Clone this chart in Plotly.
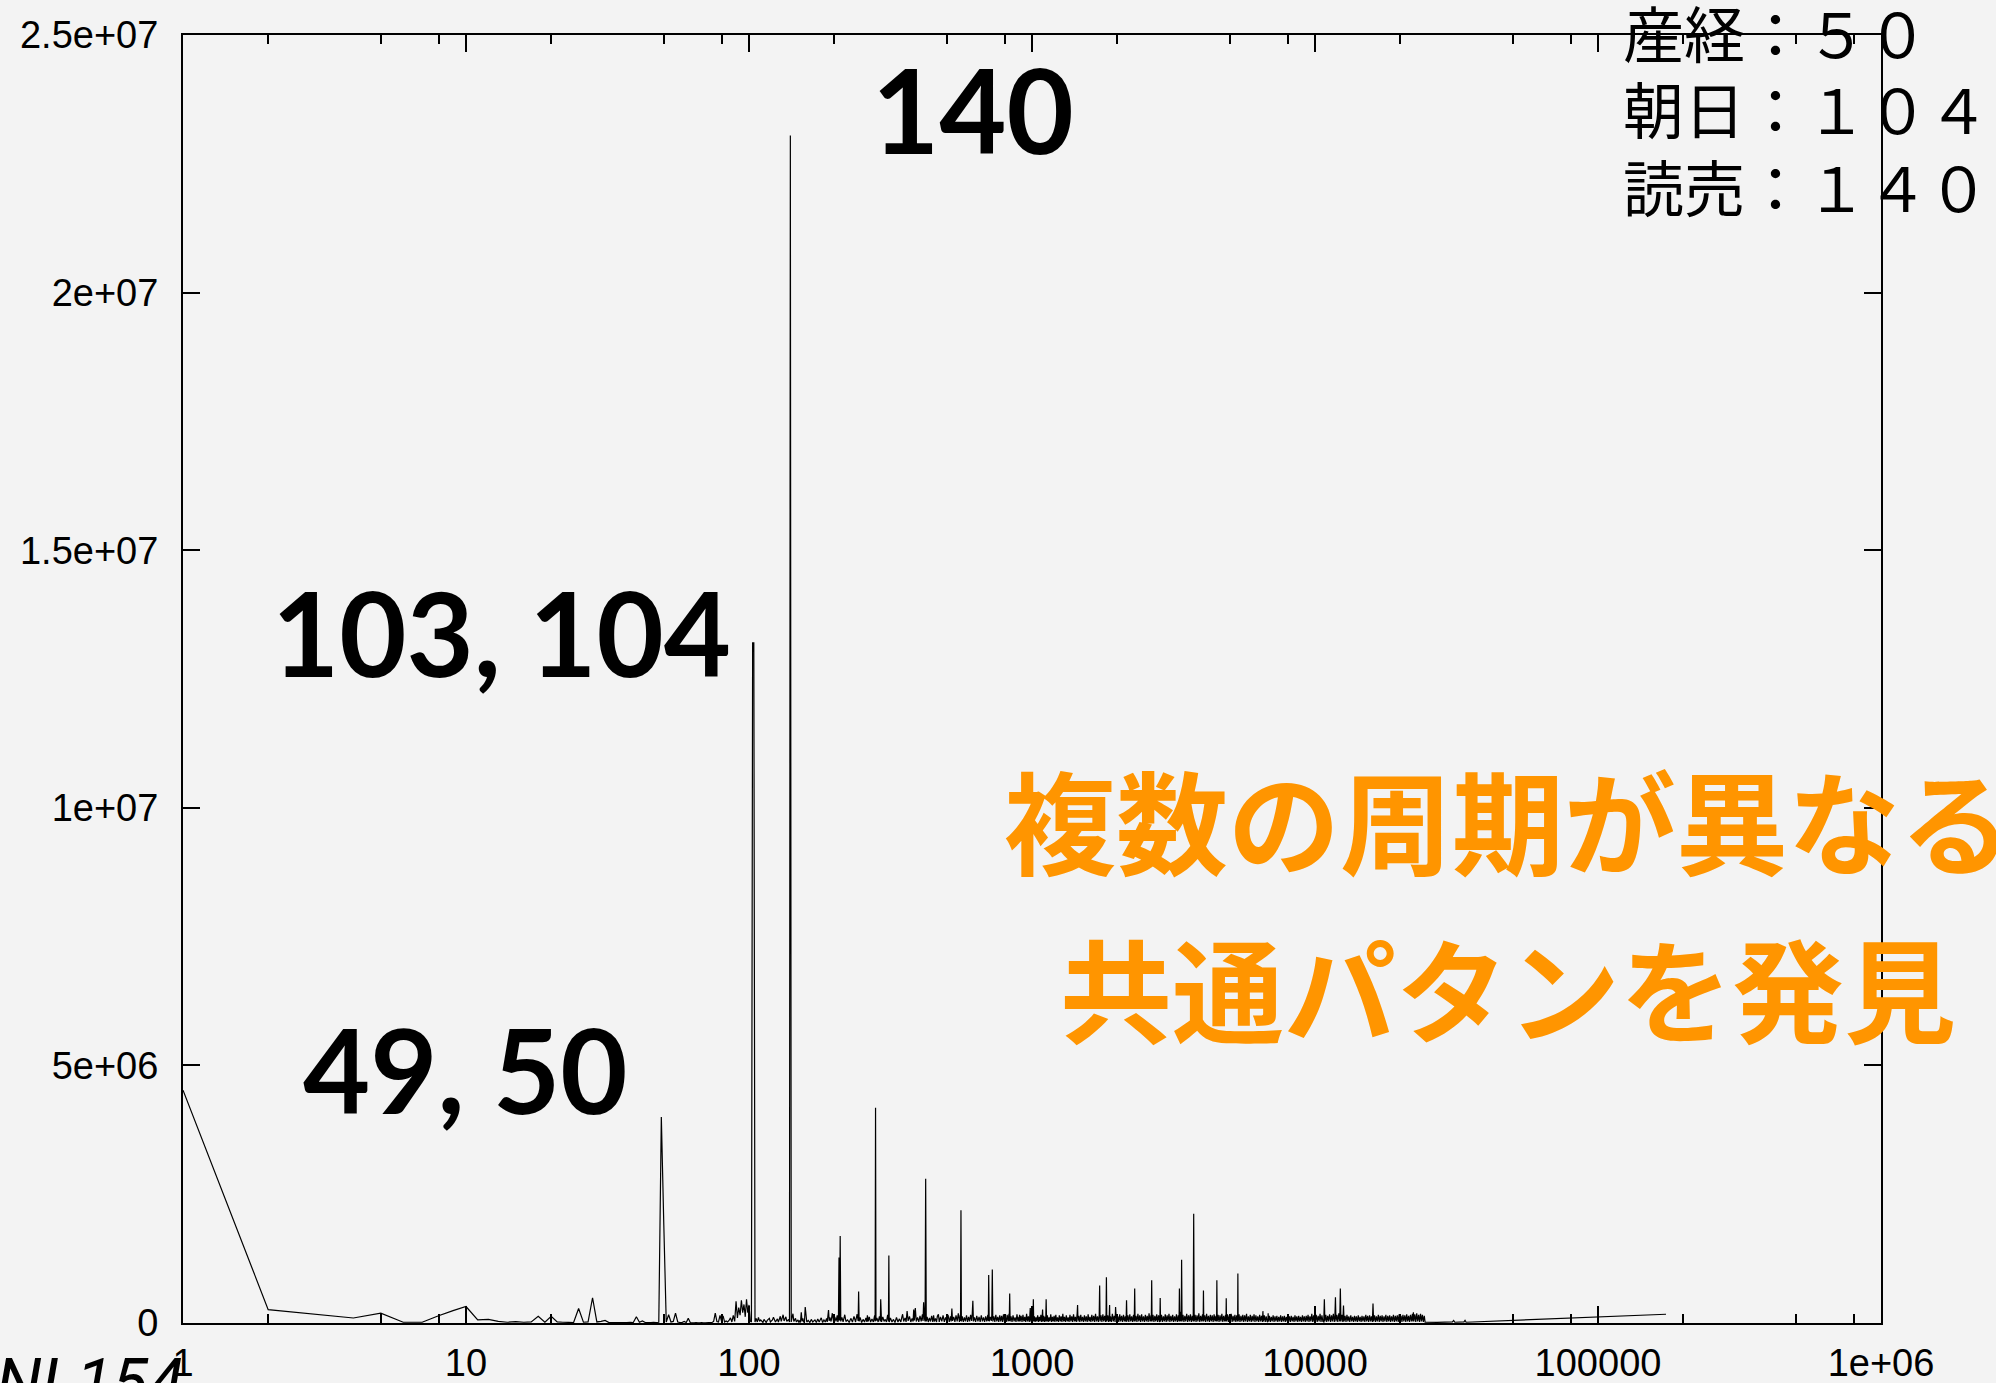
import plotly.graph_objects as go

# ---- spectrum data: (period, power) ----
low_band = [
    (1, 4.52e6), (2, 2.6e5), (4, 9.7e4), (5, 1.9e5), (6, 1.5e4), (7, 1.5e4), (8, 1.4e5),
    (9, 2.4e5), (10, 3.2e5), (11, 6e4), (12, 7e4), (13, 3e4), (14, 1.5e4), (15, 2.5e4),
    (16, 1.5e4), (17, 2e4), (18, 1.3e5), (19, 1.5e4), (20, 1.3e5), (21, 2e4), (22, 1.5e4),
    (23, 1.2e4), (24, 1e4), (25, 2.8e5), (26, 1.5e4), (27, 2e4), (28, 4.9e5), (29, 2e4),
    (30, 3e4), (31, 5e4), (32, 8e3), (33, 1e4), (34, 8e3), (35, 1e4), (36, 8e3), (37, 1e4),
    (38, 1.2e4), (39, 1e4), (40, 1.2e5), (41, 1.5e4), (42, 4e4), (43, 1e4), (44, 8e3),
    (45, 1e4), (46, 1.2e4), (47, 1e4), (48, 1.5e4), (51, 2e4), (52, 1.6e5), (53, 2e4),
    (54, 3e4), (55, 1.9e5), (56, 2e4), (57, 1e4), (58, 1e4), (59, 3e4), (60, 1e4),
    (61, 9e4), (62, 1e4), (63, 5e3), (64, 5e3), (65, 8e3), (66, 5e3), (67, 5e3), (68, 8e3),
    (69, 5e3), (70, 5e3), (72, 8e3), (74, 1e4), (75, 3e4), (76, 1.9e5), (77, 3e4),
    (78, 2e4), (79, 1.5e5), (80, 3e4), (81, 1.4e5), (82, 2e4), (83, 4e4), (84, 2e4),
    (85, 5e4), (86, 1e5), (87, 2e4), (88, 1.5e5), (89, 3e4), (90, 4.2e5), (91, 1e5),
    (92, 3e5), (93, 1.5e5), (94, 4.4e5), (95, 2e5), (96, 3.6e5), (97, 1.2e5), (98, 4.6e5),
    (99, 2e5), (100, 3.5e5), (101, 4e4), (102, 2e4),
]

peaks = [
    (49, 4.0e6), (50, 1.9e6), (103, 1.32e7), (104, 1.32e7), (140, 2.305e7),
    (153, 2.1e5), (158, 3.1e5), (191, 2.5e5), (197, 1.9e5), (208, 1.27e6), (210, 1.69e6),
    (244, 6.1e5), (262, 1.5e5), (280, 4.18e6), (292, 4.6e5), (312, 1.31e6), (349, 1.7e5),
    (362, 2.3e5), (382, 2.6e5), (387, 2.9e5), (414, 4.0e5), (421, 2.8e6), (449, 1.5e5),
    (467, 1.7e5), (521, 2.8e5), (561, 2.19e6), (618, 4.3e5), (703, 9.3e5), (724, 1.04e6),
    (834, 5.7e5), (904, 1.6e5), (986, 2.9e5), (1011, 4.6e5), (1090, 2.6e5), (1122, 4.6e5),
    (1449, 3.5e5), (1734, 7.3e5), (1832, 8.9e5), (1880, 3.5e5), (1974, 3.1e5),
    (2158, 4.4e5), (2306, 6.7e5), (2648, 8.3e5), (2838, 4.85e5), (3318, 6.7e5),
    (3378, 1.23e6), (3727, 2.12e6), (4035, 6.3e5), (4500, 8.3e5), (4857, 4.8e5),
    (5339, 9.6e5), (6545, 2.3e5), (6831, 1.9e5), (8016, 1.6e5), (9990, 3.3e5),
    (10790, 4.6e5), (11810, 5.0e5), (12290, 6.7e5), (12610, 3.4e5), (16030, 3.8e5),
    (22270, 2.1e5),
]

grass_100_1k = [
    (105, 2e4), (106, 9e4), (107, 2e4), (108, 1.1e5), (109, 3e4), (110, 6e4), (112, 1e4),
    (113, 7e4), (115, 1e4), (116, 5e4), (118, 9e4), (119, 2e4), (121, 6e4), (122, 1.1e5),
    (124, 2e4), (126, 8e4), (127, 2e4), (129, 1.3e5), (130, 3e4), (132, 1.6e5), (133, 4e4),
    (135, 1.2e5), (136, 3e4), (138, 7e4), (139, 2e4), (141, 2e4), (142, 1.1e5), (143, 1.8e5),
    (144, 3e4), (146, 9e4), (147, 2e4), (149, 6e4), (150, 1e4), (151, 5e4), (152, 1e4),
    (154, 3e4), (155, 9e4), (156, 2e4), (157, 1e4), (160, 2e4), (162, 5e4), (164, 1e4),
    (166, 7e4), (168, 2e4), (171, 6e4), (173, 1e4), (175, 8e4), (177, 2e4), (180, 1e5),
    (182, 1e4), (184, 6e4), (186, 2e4), (188, 9e4), (189, 2e4), (192, 4e4), (193, 1.1e5),
    (195, 3e4), (199, 2e4), (201, 1.2e5), (203, 3e4), (205, 1.5e5), (206, 2e4), (207, 6e4),
    (209, 5e4), (211, 3e4), (213, 1.1e5), (215, 2e4), (218, 1.6e5), (220, 3e4), (223, 6e4),
    (226, 1e4), (229, 9e4), (232, 2e4), (235, 1.3e5), (238, 2e4), (241, 1.7e5), (243, 4e4),
    (245, 3e4), (247, 1.1e5), (250, 1e4), (253, 7e4), (256, 2e4), (259, 1e5), (261, 2e4),
    (264, 3e4), (266, 1.2e5), (269, 2e4), (272, 8e4), (275, 2e4), (278, 1.5e5), (279, 3e4),
    (281, 4e4), (283, 1e5), (286, 2e4), (289, 1.3e5), (291, 3e4), (294, 2e4), (297, 1.2e5),
    (300, 3e4), (303, 7e4), (306, 2e4), (309, 1.6e5), (311, 3e4), (313, 2e4), (316, 1e5),
    (320, 2e4), (324, 7e4), (328, 1e4), (332, 1.1e5), (336, 2e4), (340, 8e4), (344, 2e4),
    (347, 1.2e5), (352, 3e4), (356, 1e5), (359, 2e4), (365, 4e4), (369, 1.3e5), (373, 2e4),
    (377, 9e4), (380, 3e4), (384, 5e4), (390, 3e4), (394, 1.1e5), (398, 2e4), (402, 1.4e5),
    (406, 3e4), (410, 1.7e5), (412, 4e4), (417, 8e4), (419, 3e4), (423, 3e4), (426, 1.2e5),
    (430, 2e4), (434, 1e5), (438, 3e4), (442, 1.4e5), (446, 2e4), (452, 3e4), (456, 9e4),
    (460, 2e4), (463, 1.3e5), (470, 2e4), (475, 1.2e5), (480, 3e4), (485, 1.5e5), (490, 2e4),
    (495, 1.1e5), (500, 3e4), (505, 1.6e5), (510, 2e4), (515, 1.3e5), (518, 3e4), (524, 4e4),
    (529, 1.2e5), (534, 2e4), (539, 1.5e5), (544, 3e4), (549, 1.9e5), (554, 2e4), (558, 1.6e5),
    (559, 4e4), (563, 3e4), (567, 1.3e5), (572, 2e4), (577, 1.1e5), (582, 3e4), (587, 1.5e5),
    (592, 2e4), (597, 1.2e5), (602, 3e4), (607, 1.6e5), (612, 4e4), (615, 1.8e5), (621, 3e4),
    (626, 1.1e5), (632, 2e4), (638, 1.4e5), (644, 3e4), (650, 1.2e5), (656, 2e4), (662, 1.5e5),
    (668, 3e4), (674, 1.1e5), (680, 2e4), (686, 1.3e5), (692, 3e4), (698, 1.6e5), (701, 4e4),
    (706, 3e4), (712, 1.2e5), (718, 4e4), (721, 1.5e5), (727, 3e4), (733, 1.3e5), (739, 2e4),
    (745, 1.6e5), (751, 3e4), (757, 1.2e5), (763, 2e4), (769, 1.5e5), (775, 3e4), (781, 1.4e5),
    (787, 2e4), (793, 1.7e5), (799, 3e4), (805, 1.2e5), (811, 2e4), (817, 1.6e5), (823, 3e4),
    (829, 1.8e5), (831, 4e4), (837, 3e4), (843, 1.3e5), (850, 2e4), (857, 1.5e5), (864, 3e4),
    (871, 1.1e5), (878, 2e4), (885, 1.7e5), (892, 3e4), (899, 1.2e5), (901, 3e4), (908, 3e4),
    (915, 1.4e5), (922, 2e4), (929, 1.6e5), (936, 3e4), (943, 1.2e5), (950, 2e4), (957, 1.8e5),
    (964, 3e4), (971, 1.3e5), (978, 2e4), (983, 1.6e5), (990, 3e4), (995, 1.4e5), (1000, 3e4),
    (1005, 1.7e5), (1008, 4e4),
]

grass_1k_3k = [
    (1014, 3e4), (1020, 1.3e5), (1026, 2e4), (1033, 1.1e5), (1040, 3e4), (1047, 1.5e5),
    (1054, 2e4), (1061, 1.2e5), (1068, 3e4), (1075, 1.6e5), (1082, 2e4), (1086, 1e5),
    (1094, 3e4), (1100, 1.4e5), (1107, 2e4), (1114, 1.2e5), (1118, 3e4), (1126, 3e4),
    (1133, 1.5e5), (1141, 2e4), (1149, 1.1e5), (1157, 3e4), (1165, 1.7e5), (1173, 2e4),
    (1181, 1.2e5), (1189, 3e4), (1197, 1.4e5), (1205, 2e4), (1214, 1.6e5), (1222, 3e4),
    (1231, 1.1e5), (1240, 2e4), (1249, 1.5e5), (1258, 3e4), (1267, 1.3e5), (1276, 2e4),
    (1285, 1.8e5), (1294, 3e4), (1303, 1.2e5), (1313, 2e4), (1322, 1.5e5), (1332, 3e4),
    (1342, 1.1e5), (1352, 2e4), (1362, 1.6e5), (1372, 3e4), (1382, 1.3e5), (1392, 2e4),
    (1402, 1.7e5), (1413, 3e4), (1423, 1.2e5), (1434, 2e4), (1444, 1.9e5), (1454, 3e4),
    (1465, 1.4e5), (1476, 2e4), (1487, 1.6e5), (1498, 3e4), (1509, 1.2e5), (1521, 2e4),
    (1532, 1.5e5), (1544, 3e4), (1555, 1.3e5), (1567, 2e4), (1579, 1.7e5), (1591, 3e4),
    (1603, 1.2e5), (1615, 2e4), (1627, 1.6e5), (1640, 3e4), (1652, 1.4e5), (1665, 2e4),
    (1677, 1.8e5), (1690, 3e4), (1703, 1.3e5), (1716, 2e4), (1728, 1.6e5), (1740, 3e4),
    (1753, 1.5e5), (1766, 2e4), (1780, 1.7e5), (1793, 3e4), (1807, 1.4e5), (1820, 2e4),
    (1827, 1.9e5), (1838, 3e4), (1851, 1.5e5), (1865, 2e4), (1875, 1.6e5), (1885, 3e4),
    (1894, 1.3e5), (1908, 2e4), (1923, 1.8e5), (1937, 3e4), (1952, 1.4e5), (1966, 2e4),
    (1981, 1.6e5), (1996, 3e4), (2011, 1.3e5), (2026, 2e4), (2042, 1.7e5), (2057, 3e4),
    (2073, 1.4e5), (2089, 2e4), (2105, 1.6e5), (2121, 3e4), (2137, 1.3e5), (2150, 2e4),
    (2166, 3e4), (2182, 1.5e5), (2199, 2e4), (2216, 1.7e5), (2233, 3e4), (2250, 1.3e5),
    (2267, 2e4), (2284, 1.6e5), (2298, 3e4), (2314, 3e4), (2331, 1.4e5), (2349, 2e4),
    (2367, 1.8e5), (2385, 3e4), (2403, 1.5e5), (2421, 2e4), (2440, 1.7e5), (2458, 3e4),
    (2477, 1.3e5), (2496, 2e4), (2515, 1.6e5), (2534, 3e4), (2553, 1.4e5), (2573, 2e4),
    (2592, 1.9e5), (2612, 3e4), (2632, 1.5e5), (2640, 3e4), (2656, 3e4), (2676, 1.6e5),
    (2697, 2e4), (2717, 1.4e5), (2738, 3e4), (2759, 1.7e5), (2780, 2e4), (2801, 1.5e5),
    (2822, 3e4), (2830, 2e4), (2846, 3e4), (2868, 1.6e5), (2890, 2e4), (2912, 1.3e5),
    (2934, 3e4), (2957, 1.7e5), (2979, 2e4),
]

grass_3k_10k = [
    (3002, 1.5e5), (3025, 3e4), (3048, 1.8e5), (3071, 2e4), (3095, 1.4e5), (3118, 3e4),
    (3142, 1.6e5), (3166, 2e4), (3190, 1.3e5), (3215, 3e4), (3239, 1.7e5), (3264, 2e4),
    (3289, 1.5e5), (3308, 3e4), (3330, 3e4), (3350, 2.2e5), (3368, 3e4), (3390, 3e4),
    (3416, 1.6e5), (3442, 2e4), (3468, 1.4e5), (3494, 3e4), (3521, 1.8e5), (3548, 2e4),
    (3575, 1.5e5), (3602, 3e4), (3630, 1.7e5), (3657, 2e4), (3685, 1.4e5), (3712, 3e4),
    (3742, 3e4), (3770, 1.6e5), (3799, 2e4), (3828, 1.5e5), (3857, 3e4), (3886, 1.9e5),
    (3916, 2e4), (3945, 1.4e5), (3975, 3e4), (4005, 1.7e5), (4025, 3e4), (4046, 3e4),
    (4077, 1.5e5), (4108, 2e4), (4140, 1.8e5), (4171, 3e4), (4203, 1.4e5), (4235, 2e4),
    (4268, 1.6e5), (4300, 3e4), (4333, 1.5e5), (4366, 2e4), (4400, 1.7e5), (4433, 3e4),
    (4467, 1.4e5), (4490, 3e4), (4512, 3e4), (4546, 1.6e5), (4581, 2e4), (4616, 1.5e5),
    (4651, 3e4), (4687, 1.8e5), (4722, 2e4), (4758, 1.4e5), (4795, 3e4), (4831, 1.6e5),
    (4847, 3e4), (4868, 3e4), (4905, 1.7e5), (4942, 2e4), (4980, 1.5e5), (5018, 3e4),
    (5056, 1.8e5), (5095, 2e4), (5134, 1.4e5), (5173, 3e4), (5212, 1.6e5), (5252, 2e4),
    (5292, 1.5e5), (5328, 3e4), (5350, 3e4), (5391, 1.7e5), (5432, 2e4), (5474, 1.4e5),
    (5515, 3e4), (5558, 1.6e5), (5600, 2e4), (5643, 1.5e5), (5686, 3e4), (5729, 1.8e5),
    (5773, 2e4), (5817, 1.3e5), (5862, 3e4), (5907, 1.6e5), (5952, 2e4), (5997, 1.4e5),
    (6043, 3e4), (6089, 1.7e5), (6136, 2e4), (6183, 1.5e5), (6230, 3e4), (6278, 1.3e5),
    (6326, 2e4), (6374, 1.6e5), (6423, 3e4), (6472, 1.4e5), (6521, 2e4), (6570, 3e4),
    (6621, 1.5e5), (6671, 2e4), (6722, 1.3e5), (6773, 3e4), (6810, 2e4), (6850, 3e4),
    (6900, 1.4e5), (6952, 2e4), (7005, 1.2e5), (7059, 3e4), (7113, 1.5e5), (7167, 2e4),
    (7222, 1.3e5), (7277, 3e4), (7333, 1.4e5), (7389, 2e4), (7445, 1.2e5), (7502, 3e4),
    (7559, 1.5e5), (7617, 2e4), (7675, 1.3e5), (7734, 3e4), (7793, 1.4e5), (7852, 2e4),
    (7912, 1.2e5), (7972, 3e4), (8060, 3e4), (8120, 1.3e5), (8180, 2e4), (8243, 1.4e5),
    (8306, 3e4), (8369, 1.2e5), (8433, 2e4), (8497, 1.5e5), (8562, 3e4), (8627, 1.3e5),
    (8693, 2e4), (8759, 1.4e5), (8826, 3e4), (8893, 1.2e5), (8961, 2e4), (9029, 1.5e5),
    (9098, 3e4), (9168, 1.3e5), (9238, 2e4), (9308, 1.4e5), (9379, 3e4), (9451, 1.6e5),
    (9523, 2e4), (9595, 1.3e5), (9668, 3e4), (9742, 1.8e5), (9816, 2e4), (9891, 1.5e5),
    (9950, 3e4),
]

grass_10k_25k = [
    (10030, 3e4), (10100, 1.6e5), (10180, 2e4), (10260, 1.4e5), (10340, 3e4), (10420, 1.8e5),
    (10500, 2e4), (10580, 1.5e5), (10660, 3e4), (10740, 2e4), (10840, 3e4), (10920, 1.6e5),
    (11000, 2e4), (11090, 1.4e5), (11170, 3e4), (11260, 1.7e5), (11350, 2e4), (11440, 1.5e5),
    (11520, 3e4), (11610, 1.8e5), (11700, 2e4), (11760, 1.4e5), (11860, 3e4), (11950, 1.6e5),
    (12040, 2e4), (12140, 1.9e5), (12230, 3e4), (12350, 3e4), (12450, 1.6e5), (12540, 2e4),
    (12670, 3e4), (12770, 1.4e5), (12870, 2e4), (12970, 1.6e5), (13070, 3e4), (13170, 1.3e5),
    (13270, 2e4), (13380, 1.5e5), (13480, 3e4), (13580, 1.2e5), (13690, 2e4), (13790, 1.4e5),
    (13900, 3e4), (14000, 1.3e5), (14110, 2e4), (14220, 1.5e5), (14330, 3e4), (14440, 1.2e5),
    (14550, 2e4), (14660, 1.4e5), (14770, 3e4), (14890, 1.3e5), (15000, 2e4), (15120, 1.6e5),
    (15230, 3e4), (15350, 1.4e5), (15470, 2e4), (15590, 1.5e5), (15710, 3e4), (15830, 1.3e5),
    (15950, 2e4), (16110, 3e4), (16230, 1.5e5), (16360, 2e4), (16480, 1.3e5), (16610, 3e4),
    (16740, 1.6e5), (16870, 2e4), (17000, 1.4e5), (17130, 3e4), (17260, 1.5e5), (17390, 2e4),
    (17530, 1.3e5), (17660, 3e4), (17800, 1.6e5), (17940, 2e4), (18080, 1.4e5), (18220, 3e4),
    (18360, 1.5e5), (18500, 2e4), (18640, 1.3e5), (18790, 3e4), (18930, 1.6e5), (19080, 2e4),
    (19230, 1.4e5), (19380, 3e4), (19530, 1.5e5), (19680, 2e4), (19830, 1.7e5), (19980, 3e4),
    (20140, 1.4e5), (20290, 2e4), (20450, 1.6e5), (20610, 3e4), (20770, 1.5e5), (20930, 2e4),
    (21090, 1.7e5), (21250, 3e4), (21420, 1.4e5), (21580, 2e4), (21750, 1.6e5), (21920, 3e4),
    (22090, 1.8e5), (22200, 3e4), (22350, 3e4), (22530, 1.7e5), (22700, 2e4), (22880, 1.9e5),
    (23060, 3e4), (23240, 1.6e5), (23420, 2e4), (23600, 1.8e5), (23780, 3e4), (23960, 1.6e5),
    (24150, 2e4), (24330, 1.4e5),
]

tail = [
    (24500, 1.5e4), (27000, 1.2e4), (30600, 2e4), (30900, 5e4), (31200, 1.5e4),
    (33600, 2e4), (33900, 5e4), (34200, 1.5e4), (173900, 1.7e5),
]

# ---- axis ticks ----
x_major = [1, 10, 100, 1000, 10000, 100000, 1000000]
x_major_text = ["1", "10", "100", "1000", "10000", "100000", "1e+06"]
x_minor = [2, 5, 8, 20, 50, 80, 200, 500, 800, 2000, 5000, 8000,
           20000, 50000, 80000, 200000, 500000, 800000]
y_major = [0, 5e6, 1e7, 1.5e7, 2e7, 2.5e7]
y_major_text = ["0", "5e+06", "1e+07", "1.5e+07", "2e+07", "2.5e+07"]

# ---- texts ----
newspapers = ["産経", "朝日", "読売"]
cycles = ["５０", "１０４", "１４０"]
peak_labels = ["140", "103, 104", "49, 50"]
message_lines = ["複数の周期が異なる", "共通パタンを発見"]
footer = "NL154"

# merge segments into one ordered series (peaks take precedence)
series = {}
for seg in (low_band, grass_100_1k, grass_1k_3k, grass_3k_10k, grass_10k_25k, tail):
    for p, v in seg:
        series[p] = v
for p, v in peaks:
    series[p] = v
period = sorted(series)
power = [series[p] for p in period]

# ---- page geometry ----
W, H = 1996, 1383
L, R, T, B = 183, 1881, 35, 1323


def px(x):
    return (x - L) / (R - L)


def py(y):
    return (B - y) / (B - T)


BG = "#F3F3F3"
TICK_FONT = dict(family="Liberation Sans, Arial, sans-serif", size=38, color="black")
BIG_FONT = dict(family="Lato, Noto Sans, sans-serif", size=116, color="black", weight=700)
CJK = "Noto Sans CJK JP"

fig = go.Figure()
fig.add_trace(go.Scatter(
    x=period, y=power, mode="lines",
    line=dict(color="black", width=1.2, simplify=False),
    showlegend=False, hoverinfo="skip",
))

annotations = []
# big peak labels
for text, (cx, cy) in zip(peak_labels, [(973, 110), (501, 632), (465, 1069)]):
    annotations.append(dict(text=text, x=px(cx), y=py(cy), xref="paper", yref="paper",
                            xanchor="center", yanchor="middle", showarrow=False,
                            font=BIG_FONT))
# newspaper / cycle list
for i, (name, cyc) in enumerate(zip(newspapers, cycles)):
    annotations.append(dict(text=f"{name}：{cyc}", x=px(1621), y=py(31 + 77 * i),
                            xref="paper", yref="paper", xanchor="left", yanchor="middle",
                            showarrow=False,
                            font=dict(family=CJK, size=61, color="black")))
# orange message
for i, line in enumerate(message_lines):
    annotations.append(dict(text=line, x=px(1508), y=py(818 + 168 * i),
                            xref="paper", yref="paper", xanchor="center", yanchor="middle",
                            showarrow=False,
                            font=dict(family=CJK, size=112, color="#FF9500", weight=700)))
# footer id
annotations.append(dict(text=footer, x=px(-6), y=py(1342), xref="paper", yref="paper",
                        xanchor="left", yanchor="top", showarrow=False,
                        font=dict(family="Roboto, DejaVu Sans, sans-serif", size=66,
                                  color="black", style="italic", weight=400)))

fig.update_layout(
    width=W, height=H,
    margin=dict(l=L, r=W - R, t=T, b=H - B, pad=0, autoexpand=False),
    paper_bgcolor=BG, plot_bgcolor=BG,
    showlegend=False,
    annotations=annotations,
    xaxis=dict(
        type="log", range=[0, 6], automargin=False,
        tickmode="array", tickvals=x_major, ticktext=x_major_text,
        ticks="inside", ticklen=17, tickwidth=2, tickcolor="black",
        showline=True, linewidth=2, linecolor="black", mirror="ticks",
        showgrid=False, zeroline=False, tickfont=TICK_FONT, ticklabelstandoff=5,
        minor=dict(tickmode="array", tickvals=x_minor, ticks="inside", ticklen=9,
                   tickwidth=2, tickcolor="black", showgrid=False),
    ),
    yaxis=dict(
        range=[0, 2.5e7], automargin=False,
        tickmode="array", tickvals=y_major, ticktext=y_major_text,
        ticks="inside", ticklen=17, tickwidth=2, tickcolor="black",
        showline=True, linewidth=2, linecolor="black", mirror="ticks",
        showgrid=False, zeroline=False, tickfont=TICK_FONT, ticklabelstandoff=15,
    ),
)

fig.write_html("out.html")
